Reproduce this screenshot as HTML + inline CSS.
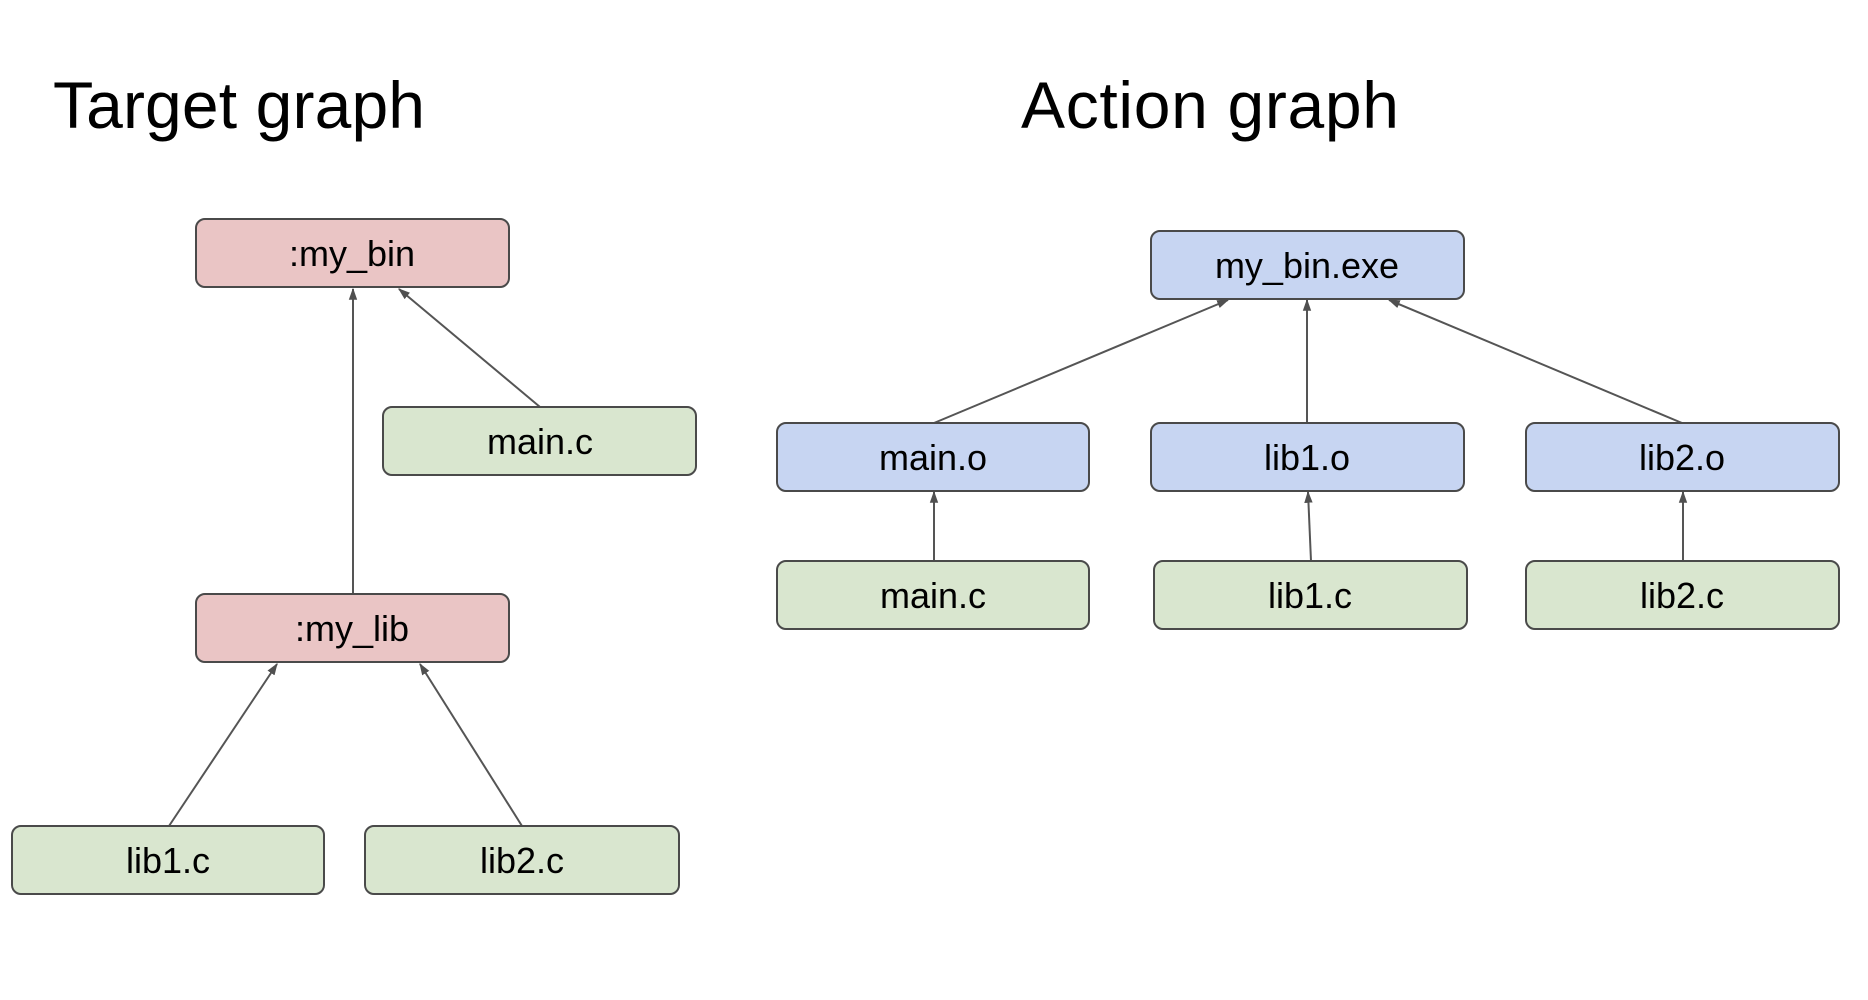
<!DOCTYPE html>
<html><head><meta charset="utf-8"><style>html,body{margin:0;padding:0;background:#fff}svg{display:block}</style></head>
<body>
<svg width="1868" height="1000" viewBox="0 0 1868 1000" xmlns="http://www.w3.org/2000/svg" font-family="Liberation Sans, Arial, sans-serif">
<defs>
<marker id="a" viewBox="0 0 10 10" refX="9" refY="5" markerWidth="12" markerHeight="12" orient="auto-start-reverse" markerUnits="userSpaceOnUse">
<path d="M0,1.5 L10,5 L0,8.5 z" fill="#505050"/></marker>
</defs>
<text x="53" y="128" font-size="66" textLength="372" fill="#000">Target graph</text>
<text x="1021" y="128" font-size="66" textLength="378" fill="#000">Action graph</text>
<g stroke="#555" stroke-width="2" fill="none">
<line x1="353" y1="594" x2="353" y2="289" marker-end="url(#a)"/>
<line x1="540" y1="407" x2="399" y2="289" marker-end="url(#a)"/>
<line x1="169" y1="826" x2="277" y2="664" marker-end="url(#a)"/>
<line x1="522" y1="826" x2="420" y2="664" marker-end="url(#a)"/>
<line x1="934" y1="423" x2="1228" y2="300" marker-end="url(#a)"/>
<line x1="1307" y1="423" x2="1307" y2="300" marker-end="url(#a)"/>
<line x1="1682" y1="423" x2="1389" y2="300" marker-end="url(#a)"/>
<line x1="934" y1="561" x2="934" y2="492" marker-end="url(#a)"/>
<line x1="1311" y1="561" x2="1308" y2="492" marker-end="url(#a)"/>
<line x1="1683" y1="561" x2="1683" y2="492" marker-end="url(#a)"/>
</g>
<g stroke="#4a4a4a" stroke-width="2">
<rect x="196" y="219" width="313" height="68" rx="9" fill="#eac5c5"/>
<rect x="383" y="407" width="313" height="68" rx="9" fill="#d9e6cf"/>
<rect x="196" y="594" width="313" height="68" rx="9" fill="#eac5c5"/>
<rect x="12" y="826" width="312" height="68" rx="9" fill="#d9e6cf"/>
<rect x="365" y="826" width="314" height="68" rx="9" fill="#d9e6cf"/>
<rect x="1151" y="231" width="313" height="68" rx="9" fill="#c7d5f2"/>
<rect x="777" y="423" width="312" height="68" rx="9" fill="#c7d5f2"/>
<rect x="1151" y="423" width="313" height="68" rx="9" fill="#c7d5f2"/>
<rect x="1526" y="423" width="313" height="68" rx="9" fill="#c7d5f2"/>
<rect x="777" y="561" width="312" height="68" rx="9" fill="#d9e6cf"/>
<rect x="1154" y="561" width="313" height="68" rx="9" fill="#d9e6cf"/>
<rect x="1526" y="561" width="313" height="68" rx="9" fill="#d9e6cf"/>
</g>
<g font-size="36" text-anchor="middle" fill="#000">
<text x="352" y="266">:my_bin</text>
<text x="540" y="454">main.c</text>
<text x="352" y="641">:my_lib</text>
<text x="168" y="873">lib1.c</text>
<text x="522" y="873">lib2.c</text>
<text x="1307" y="278">my_bin.exe</text>
<text x="933" y="470">main.o</text>
<text x="1307" y="470">lib1.o</text>
<text x="1682" y="470">lib2.o</text>
<text x="933" y="608">main.c</text>
<text x="1310" y="608">lib1.c</text>
<text x="1682" y="608">lib2.c</text>
</g>
</svg>
</body></html>
